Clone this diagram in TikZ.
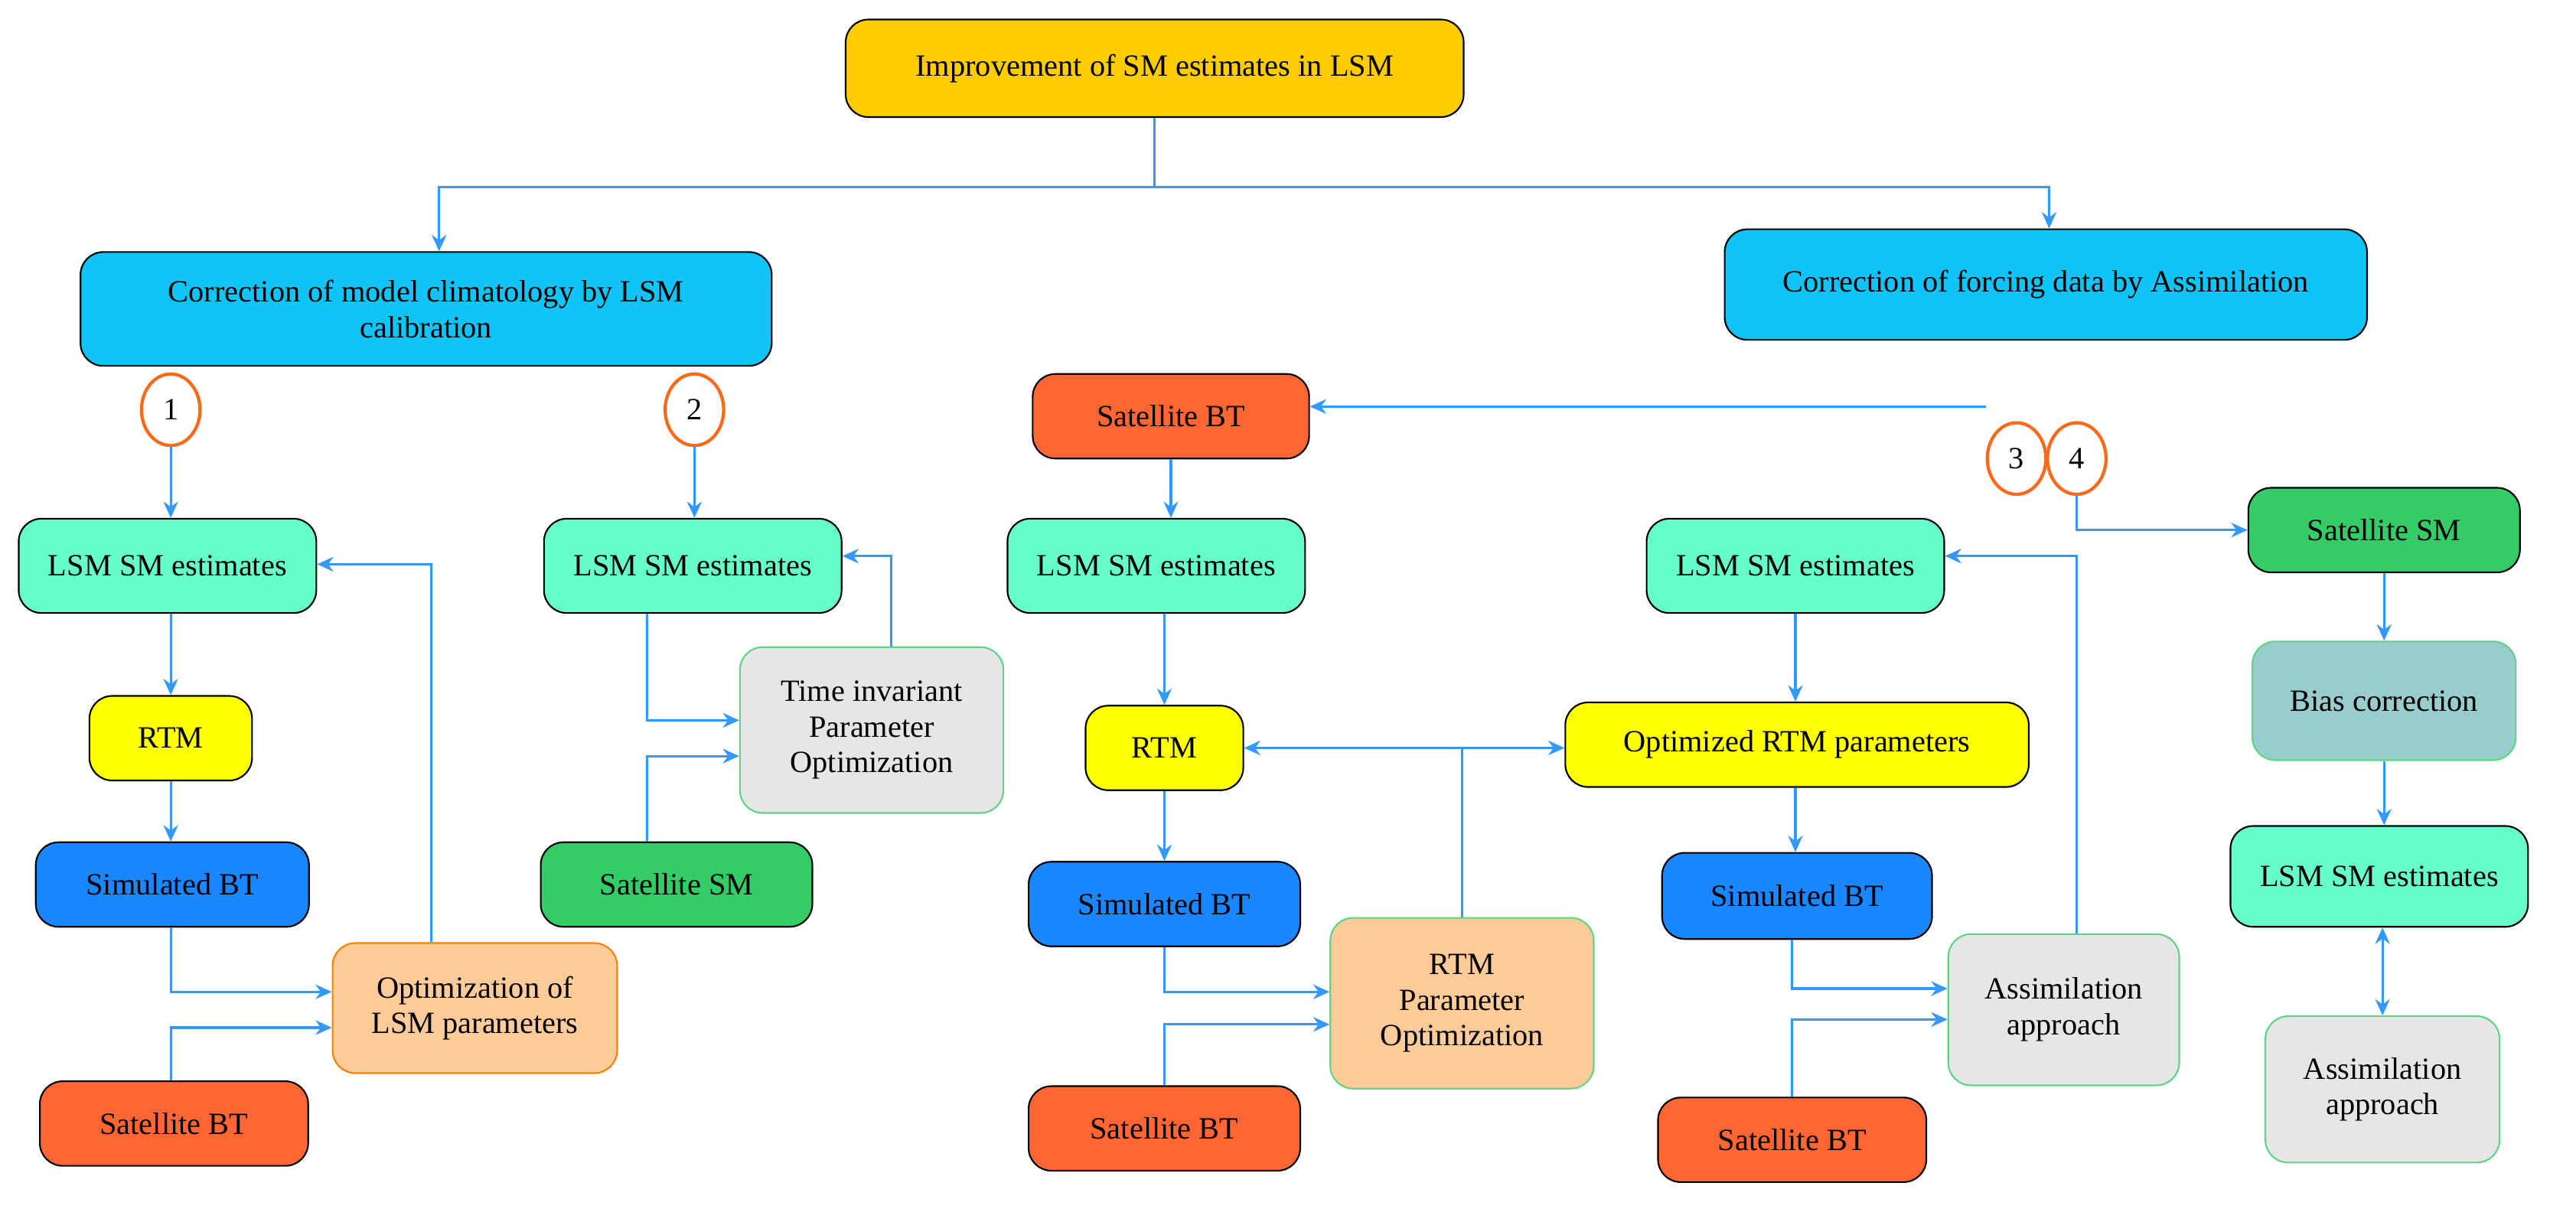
\documentclass[tikz,border=0pt]{standalone}
\usepackage{fontspec}
\setmainfont{Liberation Serif}
\usetikzlibrary{arrows.meta,shapes.geometric}
\definecolor{topc}{HTML}{FFCC00}
\definecolor{bluec}{HTML}{10C4F8}
\definecolor{teal}{HTML}{66FFCC}
\definecolor{yel}{HTML}{FFFF00}
\definecolor{simb}{HTML}{1A86FF}
\definecolor{satb}{HTML}{FF6633}
\definecolor{satsm}{HTML}{33CC66}
\definecolor{peach}{HTML}{FFCC99}
\definecolor{lgray}{HTML}{E6E6E6}
\definecolor{bias}{HTML}{99CCCC}
\definecolor{arr}{HTML}{3399FF}
\definecolor{circ}{HTML}{FF6A1A}
\begin{document}
\begin{tikzpicture}[x=1pt,y=-1pt,
  box/.style={draw=black,line width=1pt,rounded corners=14pt,align=center,inner sep=2pt,font=\fontsize{19}{22}\selectfont},
  b/.style n args={3}{box,minimum width=#1pt,minimum height=#2pt,fill=#3},
  cir/.style={ellipse,draw=circ,line width=2pt,fill=white,minimum width=36pt,minimum height=44pt,inner sep=0pt,font=\fontsize{19}{22}\selectfont},
  a/.style={draw=arr,line width=1.5pt,-{Stealth[length=10pt,width=9pt]}},
  l/.style={draw=arr,line width=1.5pt}]
\useasboundingbox (0,0) rectangle (1584,745);
\node[b={380}{60}{topc}] (top) at (710,42) {Improvement of SM estimates in LSM};
\node[b={425}{70}{bluec}] (lb) at (262,190) {Correction of model climatology by LSM\\calibration};
\node[b={395}{68}{bluec}] (rb) at (1258,175) {Correction of forcing data by Assimilation};
\node[cir] (c1) at (105,252) {1};
\node[cir] (c2) at (427,252) {2};
\node[cir] (c3) at (1240,282) {3};
\node[cir] (c4) at (1277,282) {4};
% col1
\node[b={183}{58}{teal}] (l1) at (103,348) {LSM SM estimates};
\node[b={100}{52}{yel}] (r1) at (105,454) {RTM};
\node[b={168}{52}{simb}] (s1) at (106,544) {Simulated BT};
\node[b={165}{52}{satb}] (t1) at (107,691) {Satellite BT};
\node[b={175}{80}{peach},draw=orange] (o1) at (292,620) {Optimization of\\LSM parameters};
% col2
\node[b={183}{58}{teal}] (l2) at (426,348) {LSM SM estimates};
\node[b={162}{102}{lgray},draw=satsm!80] (p2) at (536,449) {Time invariant\\Parameter\\Optimization};
\node[b={167}{52}{satsm}] (m2) at (416,544) {Satellite SM};
% col3
\node[b={170}{52}{satb}] (t3a) at (720,256) {Satellite BT};
\node[b={183}{58}{teal}] (l3) at (711,348) {LSM SM estimates};
\node[b={97}{52}{yel}] (r3) at (716,460) {RTM};
\node[b={167}{52}{simb}] (s3) at (716,556) {Simulated BT};
\node[b={167}{52}{satb}] (t3) at (716,694) {Satellite BT};
\node[b={162}{105}{peach},draw=satsm!80] (p3) at (899,617) {RTM\\Parameter\\Optimization};
\node[b={285}{52}{yel}] (or) at (1105,458) {Optimized RTM parameters};
% col4
\node[b={183}{58}{teal}] (l4) at (1104,348) {LSM SM estimates};
\node[b={166}{53}{simb}] (s4) at (1105,551) {Simulated BT};
\node[b={165}{52}{satb}] (t4) at (1102,701) {Satellite BT};
\node[b={142}{93}{lgray},draw=satsm!80] (a4) at (1269,621) {Assimilation\\approach};
% col5
\node[b={167}{52}{satsm}] (m5) at (1466,326) {Satellite SM};
\node[b={162}{73}{bias},draw=satsm!80] (bc) at (1466,431) {Bias correction};
\node[b={183}{62}{teal}] (l5) at (1463,539) {LSM SM estimates};
\node[b={144}{90}{lgray},draw=satsm!80] (a5) at (1465,670) {Assimilation\\approach};
% top connectors
\coordinate (tj) at (710,115);
\path[l] (top.south) -- (tj);
\path[a] (tj) -| (lb.north-|270,0);
\path[a] (tj) -| (rb.north-|1260,0);
% circles
\path[a] (c1) -- (l1.north-|c1);
\path[a] (c2) -- (l2.north-|c2);
\path[a] (c3.west|-0,250) -- (t3a.east|-0,250);
\path[a] (c4.south) |- (m5.west);
% col1
\path[a] (l1.south-|105,0) -- (r1);
\path[a] (r1) -- (s1.north-|105,0);
\path[a] (s1.south-|105,0) |- (o1.west|-0,610);
\path[a] (t1.north-|105,0) |- (o1.west|-0,632);
\path[a] (o1.north-|265,0) |- (l1.east|-0,347);
% col2
\path[a] (l2.south-|398,0) |- (p2.west|-0,443);
\path[a] (m2.north-|398,0) |- (p2.west|-0,465);
\path[a] (p2.north-|548,0) |- (l2.east|-0,342);
% col3
\path[a] (t3a) -- (l3.north-|t3a);
\path[a] (l3.south-|716,0) -- (r3);
\path[a] (r3) -- (s3);
\path[a] (s3) |- (p3.west|-0,610);
\path[a] (t3) |- (p3.west|-0,630);
\path[draw=arr,line width=1.5pt,{Stealth[length=10pt,width=9pt]}-{Stealth[length=10pt,width=9pt]}] (r3.east) -- (or.west|-r3.east);
\path[l] (p3.north) -- (p3.north|-r3.east);
% col4
\path[a] (l4.south-|1104,0) -- (or.north-|1104,0);
\path[a] (or.south-|1104,0) -- (s4.north-|1104,0);
\path[a] (s4.south-|1102,0) |- (a4.west|-0,608);
\path[a] (t4.north-|1102,0) |- (a4.west|-0,627);
\path[a] (a4.north-|1277,0) |- (l4.east|-0,342);
% col5
\path[a] (m5) -- (bc);
\path[a] (bc) -- (l5.north-|bc);
\path[draw=arr,line width=1.5pt,{Stealth[length=10pt,width=9pt]}-{Stealth[length=10pt,width=9pt]}] (l5.south-|1465,0) -- (a5.north);
\end{tikzpicture}
\end{document}
